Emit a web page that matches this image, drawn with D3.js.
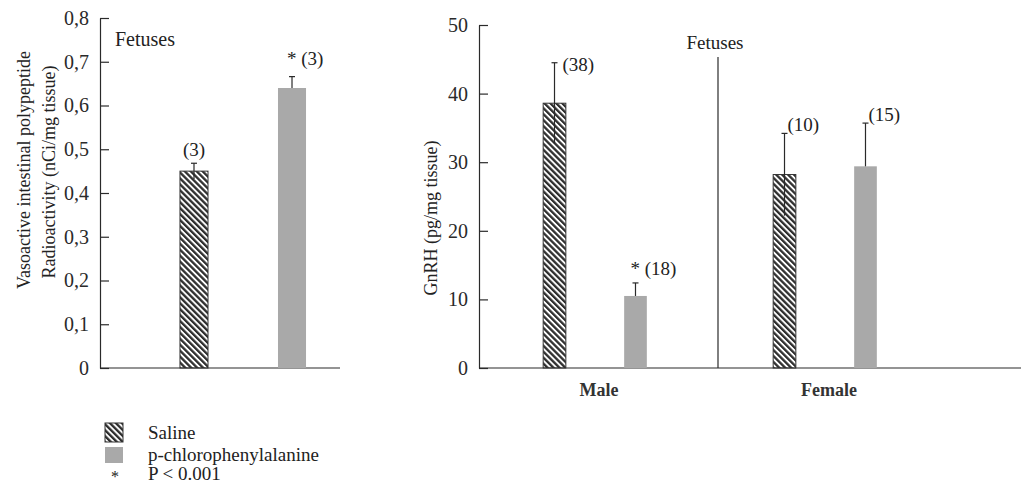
<!DOCTYPE html>
<html>
<head>
<meta charset="utf-8">
<script src="https://cdn.jsdelivr.net/npm/d3@7"></script>
<style>
  body { margin: 0; background: #fff; }
  text { font-family: "Liberation Serif", "Times New Roman", serif; fill: #222; }
</style>
</head>
<body>
<svg id="chart" width="1021" height="485"></svg>
<script>
// treatments and values
const treatments = ["Saline", "p-chlorophenylalanine"];

// left panel: VIP radioactivity (nCi/mg tissue)
const vipMean = [0.45, 0.64];
const vipErr = [0.018, 0.026];
const vipN = ["(3)", "* (3)"];
const vipTicks = [0, 0.1, 0.2, 0.3, 0.4, 0.5, 0.6, 0.7, 0.8];

// right panel: GnRH (pg/mg tissue)
const sexes = ["Male", "Female"];
const gnrhSaline = [38.6, 28.2];
const gnrhSalineErr = [5.9, 6.0];
const gnrhPcpa = [10.5, 29.4];
const gnrhPcpaErr = [1.9, 6.3];
const gnrhSalineN = ["(38)", "(10)"];
const gnrhPcpaN = ["* (18)", "(15)"];
const gnrhTicks = [0, 10, 20, 30, 40, 50];

const svg = d3.select("#chart");
const ink = "#2a2a2a";
const grey = "#a9a9a9";
const fs = 19;

// hatch pattern for saline
const defs = svg.append("defs");
defs.append("pattern")
    .attr("id", "hatch")
    .attr("patternUnits", "userSpaceOnUse")
    .attr("width", 4.2)
    .attr("height", 4.2)
    .attr("patternTransform", "rotate(-45)")
  .append("rect")
    .attr("width", 2.3)
    .attr("height", 4.2)
    .attr("fill", "#2e2e2e");

const fillFor = t => t === treatments[0] ? "url(#hatch)" : grey;

function drawYAxis(g, y, ticks, minorStep, fmt) {
    const [lo, hi] = y.domain();
    g.call(d3.axisLeft(y).tickValues(d3.range(lo, hi + minorStep / 2, minorStep))
            .tickSizeInner(-5).tickSizeOuter(0).tickFormat(""));
    g.call(d3.axisLeft(y).tickValues(ticks).tickSizeInner(-9).tickSizeOuter(0)
            .tickPadding(11).tickFormat(fmt))
        .call(a => a.selectAll("text").attr("font-size", 20).style("fill", ink)
            .style("font-family", "'Liberation Serif', serif"));
    g.selectAll("path, line").attr("stroke", ink).attr("stroke-width", 1.2);
}

function errorBar(g, x, yTop, yBot, cap) {
    g.append("line").attr("x1", x).attr("x2", x).attr("y1", yTop).attr("y2", yBot)
        .attr("stroke", ink).attr("stroke-width", 1.2);
    g.append("line").attr("x1", x - cap).attr("x2", x + cap).attr("y1", yTop).attr("y2", yTop)
        .attr("stroke", ink).attr("stroke-width", 1.2);
}

// ---------- left panel ----------
const yL = d3.scaleLinear().domain([0, 0.8]).range([368, 18]);
const xL = d3.scaleBand().domain(treatments).range([100, 386])
    .paddingInner(0.714).paddingOuter(0.816);

const left = svg.append("g");
left.append("line").attr("x1", 100).attr("x2", 340).attr("y1", yL(0)).attr("y2", yL(0))
    .attr("stroke", ink).attr("stroke-width", 1.2);

treatments.forEach((t, i) => {
    const x = xL(t), w = xL.bandwidth(), cx = x + w / 2;
    left.append("rect").attr("x", x).attr("y", yL(vipMean[i]))
        .attr("width", w).attr("height", yL(0) - yL(vipMean[i]))
        .attr("fill", fillFor(t))
        .attr("stroke", i === 0 ? "#333" : "none").attr("stroke-width", 1);
    const top = yL(vipMean[i] + vipErr[i]);
    const bot = i === 0 ? yL(vipMean[i] - vipErr[i]) : yL(vipMean[i]);
    errorBar(left, cx, top, bot, 3);
    const star = vipN[i].startsWith("*");
    left.append("text")
        .attr("x", star ? cx - 5 : cx)
        .attr("y", star ? top - 12 : top - 7)
        .attr("text-anchor", star ? "start" : "middle")
        .attr("font-size", fs)
        .text(vipN[i]);
});

drawYAxis(left.append("g").attr("transform", "translate(100,0)"), yL, vipTicks, 0.02,
    d => d === 0 ? "0" : d3.format(".1f")(d).replace(".", ","));

left.append("text").attr("x", 115).attr("y", 46).attr("font-size", 20).text("Fetuses");

left.append("text")
    .attr("transform", "translate(30,170) rotate(-90)")
    .attr("text-anchor", "middle").attr("font-size", 18)
    .text("Vasoactive intestinal polypeptide");
left.append("text")
    .attr("transform", "translate(55,172) rotate(-90)")
    .attr("text-anchor", "middle").attr("font-size", 18)
    .text("Radioactivity (nCi/mg tissue)");

// ---------- right panel ----------
const yR = d3.scaleLinear().domain([0, 50]).range([368, 25]);
const x0 = d3.scaleBand().domain(sexes).range([480, 940]);
const x1 = d3.scaleBand().domain(treatments).range([0, x0.bandwidth()])
    .paddingInner(0.72).paddingOuter(0.78);

const right = svg.append("g");
right.append("line").attr("x1", 479).attr("x2", 1021).attr("y1", yR(0)).attr("y2", yR(0))
    .attr("stroke", ink).attr("stroke-width", 1.2);

// divider between sexes
right.append("line")
    .attr("x1", x0("Female") + 8).attr("x2", x0("Female") + 8)
    .attr("y1", 57).attr("y2", yR(0))
    .attr("stroke", ink).attr("stroke-width", 1.2);
right.append("text").attr("x", x0("Female") + 5).attr("y", 49)
    .attr("text-anchor", "middle").attr("font-size", fs).text("Fetuses");

sexes.forEach((s, j) => {
    const vals = [gnrhSaline[j], gnrhPcpa[j]];
    const errs = [gnrhSalineErr[j], gnrhPcpaErr[j]];
    const ns = [gnrhSalineN[j], gnrhPcpaN[j]];
    treatments.forEach((t, i) => {
        const x = x0(s) + x1(t), w = x1.bandwidth(), cx = x + w / 2;
        right.append("rect").attr("x", x).attr("y", yR(vals[i]))
            .attr("width", w).attr("height", yR(0) - yR(vals[i]))
            .attr("fill", fillFor(t))
            .attr("stroke", i === 0 ? "#333" : "none").attr("stroke-width", 1);
        const top = yR(vals[i] + errs[i]);
        const bot = i === 0 ? yR(vals[i] - errs[i]) : yR(vals[i]);
        errorBar(right, cx, top, bot, 3);
        const star = ns[i].startsWith("*");
        right.append("text")
            .attr("x", star ? cx - 5 : cx + (j === 0 ? 8 : 3))
            .attr("y", star ? top - 8 : (j === 0 ? top + 8 : top - 2))
            .attr("font-size", fs)
            .text(ns[i]);
    });
    right.append("text")
        .attr("x", x0(s) + x0.bandwidth() / 2 + 4).attr("y", 396)
        .attr("text-anchor", "middle").attr("font-size", 18).attr("font-weight", "bold")
        .style("fill", "#333")
        .text(s);
});

drawYAxis(right.append("g").attr("transform", "translate(479,0)"), yR, gnrhTicks, 2, d3.format("d"));

right.append("text")
    .attr("transform", "translate(437,218) rotate(-90)")
    .attr("text-anchor", "middle").attr("font-size", 18)
    .text("GnRH (pg/mg tissue)");

// ---------- legend ----------
const legend = svg.append("g");
treatments.forEach((t, i) => {
    legend.append("rect").attr("x", 105).attr("y", 423 + i * 24)
        .attr("width", 18).attr("height", i === 0 ? 19 : 16)
        .attr("fill", fillFor(t)).attr("stroke", i === 0 ? "#333" : "none");
    legend.append("text").attr("x", 148).attr("y", 439 + i * 22)
        .attr("font-size", fs).text(t);
});
legend.append("text").attr("x", 115).attr("y", 482).attr("text-anchor", "middle")
    .attr("font-size", 16).text("*");
legend.append("text").attr("x", 148).attr("y", 480).attr("font-size", fs).text("P < 0.001");
</script>
</body>
</html>
